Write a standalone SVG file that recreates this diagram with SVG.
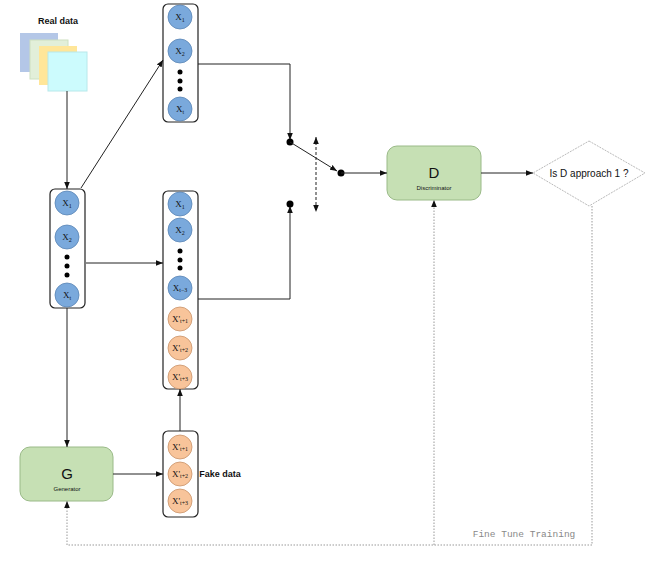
<svg xmlns="http://www.w3.org/2000/svg" width="655" height="565" viewBox="0 0 655 565">
<style>
.col{fill:#fff;stroke:#222;stroke-width:1.2}
.b{fill:#7aa9dc;stroke:#5a85b5;stroke-width:.8}
.o{fill:#f8c49a;stroke:#c9936a;stroke-width:.8}
.t{font-family:"Liberation Serif",serif;font-size:9px;fill:#111;text-anchor:middle}
.l{stroke:#222;stroke-width:1;fill:none}
.d{stroke:#999;stroke-width:1;fill:none;stroke-dasharray:1.5 1.5}
.box{fill:#c6e0b4;stroke:#9aba88;stroke-width:1}
.s{font-family:"Liberation Sans",sans-serif;text-anchor:middle;fill:#111}
</style>
<defs>
<marker id="a" viewBox="0 0 10 10" refX="10" refY="5" markerWidth="7" markerHeight="7" orient="auto-start-reverse"><path d="M0,1 L10,5 L0,9z" fill="#111"/></marker>
</defs>
<g id="realdata">
<rect x="20" y="33" width="38" height="39" fill="#b4c7e7"/>
<rect x="30" y="40" width="38" height="39" fill="#e2efd9" stroke="#cde0c0"/>
<rect x="39" y="46" width="38" height="39" fill="#ffe699"/>
<rect x="48" y="52" width="39" height="39" fill="#ccfbfd" stroke="#b8e8ea"/>
<text x="58" y="24" class="s" font-size="9" font-weight="bold">Real data</text>
</g>
<g id="leftcol">
<rect class="col" x="50" y="189" width="35" height="119" rx="5"/>
<circle class="b" cx="67" cy="203" r="12"/><text class="t" x="67" y="206">X<tspan font-size="6" dy="2">1</tspan></text>
<circle class="b" cx="67" cy="237" r="12"/><text class="t" x="67" y="240">X<tspan font-size="6" dy="2">2</tspan></text>
<circle cx="67" cy="257" r="2.5"/><circle cx="67" cy="266" r="2.5"/><circle cx="67" cy="275" r="2.5"/>
<circle class="b" cx="67" cy="295" r="12"/><text class="t" x="67" y="298">X<tspan font-size="6" dy="2">t</tspan></text>
</g>
<g id="topcol">
<rect class="col" x="163" y="4" width="35" height="118" rx="5"/>
<circle class="b" cx="180" cy="17" r="12"/><text class="t" x="180" y="20">X<tspan font-size="6" dy="2">1</tspan></text>
<circle class="b" cx="180" cy="51" r="12"/><text class="t" x="180" y="54">X<tspan font-size="6" dy="2">2</tspan></text>
<circle cx="180" cy="72" r="2.5"/><circle cx="180" cy="81" r="2.5"/><circle cx="180" cy="89" r="2.5"/>
<circle class="b" cx="180" cy="109" r="12"/><text class="t" x="180" y="112">X<tspan font-size="6" dy="2">t</tspan></text>
</g>
<g id="midcol">
<rect class="col" x="163" y="191" width="35" height="198" rx="5"/>
<circle class="b" cx="180" cy="204" r="12"/><text class="t" x="180" y="207">X<tspan font-size="6" dy="2">1</tspan></text>
<circle class="b" cx="180" cy="230" r="12"/><text class="t" x="180" y="233">X<tspan font-size="6" dy="2">2</tspan></text>
<circle cx="180" cy="251" r="2.5"/><circle cx="180" cy="260" r="2.5"/><circle cx="180" cy="268" r="2.5"/>
<circle class="b" cx="180" cy="288" r="12"/><text class="t" x="180" y="291">X<tspan font-size="6" dy="1">t−3</tspan></text>
<circle class="o" cx="180" cy="319" r="12"/><text class="t" x="180" y="322">X'<tspan font-size="6" dy="1">t+1</tspan></text>
<circle class="o" cx="180" cy="348" r="12"/><text class="t" x="180" y="351">X'<tspan font-size="6" dy="1">t+2</tspan></text>
<circle class="o" cx="180" cy="377" r="12"/><text class="t" x="180" y="380">X'<tspan font-size="6" dy="1">t+3</tspan></text>
</g>
<g id="fakecol">
<rect class="col" x="163" y="431" width="35" height="86" rx="5"/>
<circle class="o" cx="180" cy="447" r="12"/><text class="t" x="180" y="450">X'<tspan font-size="6" dy="1">t+1</tspan></text>
<circle class="o" cx="180" cy="474" r="12"/><text class="t" x="180" y="477">X'<tspan font-size="6" dy="1">t+2</tspan></text>
<circle class="o" cx="180" cy="501" r="12"/><text class="t" x="180" y="504">X'<tspan font-size="6" dy="1">t+3</tspan></text>
<text x="220" y="477" class="s" font-size="9" font-weight="bold" text-anchor="start">Fake data</text>
</g>
<g id="generator">
<rect class="box" x="20" y="447" width="93" height="54" rx="10"/>
<text x="67" y="479" class="s" font-size="15">G</text>
<text x="67" y="491" class="s" font-size="6">Generator</text>
</g>
<g id="discriminator">
<rect class="box" x="387" y="146" width="94" height="54" rx="10"/>
<text x="434" y="178" class="s" font-size="15">D</text>
<text x="434" y="190" class="s" font-size="6">Discriminator</text>
</g>
<g id="decision">
<polygon points="589,141 645,173 589,206 533,173" fill="#fff" stroke="#bbb" stroke-width="1" stroke-dasharray="2 1"/>
<text x="589" y="177" class="s" font-size="10">Is D approach 1 ?</text>
</g>
<g id="connectors">
<path class="l" d="M67,91 V189" marker-end="url(#a)"/>
<path class="l" d="M81,188 L163,60" marker-end="url(#a)"/>
<path class="l" d="M86,263 H163" marker-end="url(#a)"/>
<path class="l" d="M198,64 H290 V140" marker-end="url(#a)"/>
<path class="l" d="M198,299 H290 V206" marker-end="url(#a)"/>
<circle cx="290" cy="142" r="3.5"/><circle cx="290" cy="204" r="3.5"/><circle cx="341" cy="173" r="3.5"/>
<path class="l" d="M290,142 L337,171" marker-end="url(#a)"/>
<path class="l" d="M316,137 V212" stroke-dasharray="3 2" marker-start="url(#a)" marker-end="url(#a)"/>
<path class="l" d="M341,173 H387" marker-end="url(#a)"/>
<path class="l" d="M481,173 H533" marker-end="url(#a)"/>
<path class="l" d="M67,308 V447" marker-end="url(#a)"/>
<path class="l" d="M113,474 H163" marker-end="url(#a)"/>
<path class="l" d="M180,431 V389" marker-end="url(#a)"/>
<path class="d" d="M592,206 V545 H67 V501" marker-end="url(#a)"/>
<path class="d" d="M434,545 V200" marker-end="url(#a)"/>
<text x="524" y="537" font-family="Liberation Mono,monospace" font-size="9.5" fill="#888" text-anchor="middle">Fine Tune Training</text>
</g>
</svg>
